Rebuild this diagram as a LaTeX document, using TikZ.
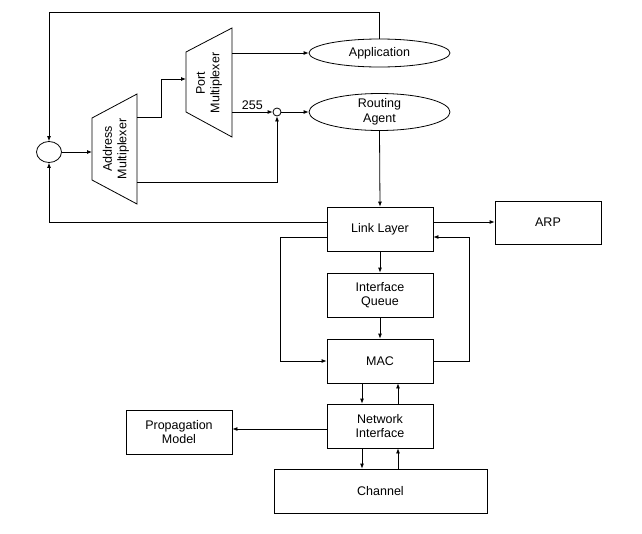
\documentclass[tikz,border=0pt]{standalone}
\usepackage{fontspec}
\setmainfont{Liberation Sans}
\usetikzlibrary{arrows.meta,shapes.geometric,calc}
\begin{document}
\begin{tikzpicture}[x=1pt,y=-1pt,line width=0.8pt,
  >={Latex[length=5pt,width=4pt]},
  lbl/.style={font=\fontsize{12.5}{14.5}\selectfont,align=center},
  box/.style={draw,lbl,minimum width=106pt,minimum height=44pt,inner sep=0pt},
  ell/.style={draw,ellipse,lbl,minimum width=141pt,minimum height=28pt,inner sep=0pt},
  junc/.style={draw,ellipse,inner sep=0pt}]
\useasboundingbox (0,0) rectangle (642,533);
% boxes
\node[box] (ll) at (380,229) {Link Layer};
\node[box,minimum height=43pt] (arp) at (548,222.5) {ARP};
\node[box] (iq) at (380,295) {Interface\\Queue};
\node[box] (mac) at (380,361) {MAC};
\node[box] (ni) at (380,426) {Network\\Interface};
\node[box] (pm) at (179,432) {Propagation\\Model};
\node[box,minimum width=213pt] (ch) at (380.5,491) {Channel};
\node[ell] (app) at (379.5,53) {Application};
\node[ell] (ra) at (379.5,112) {Routing\\Agent};
% junctions
\node[junc,minimum width=25pt,minimum height=21pt] (c1) at (49,152) {};
\node[junc,minimum width=8pt,minimum height=8pt] (c2) at (277,112) {};
% multiplexers
\draw (92,118) -- (137,94) -- (137,204) -- (92,180) -- cycle;
\node[lbl,rotate=90] (amux) at (116,149) {Address\\Multiplexer};
\draw (186,52) -- (232,28) -- (232,137) -- (186,112) -- cycle;
\node[lbl,rotate=90] (pmux) at (209,83) {Port\\Multiplexer};
\coordinate (amin) at (92,152);
\coordinate (amo1) at (137,117);
\coordinate (amo2) at (137,182);
\coordinate (pmin) at (186,79);
\coordinate (pmo1) at (232,53);
\coordinate (pmo2) at (232,112);
% connectors
\draw[->] (c1) -- (amin);
\draw[->] (amo1) -- ++(24,0) |- (pmin);
\draw[->] (pmo1) -- (app.west);
\draw[->] (pmo2) -- node[lbl,above=-1pt] {255} (c2.west);
\draw[->] (c2) -- (ra.west);
\draw[->] (amo2) -| (c2.south);
\draw[->] (ra.south) -- (ll.north);
\draw[->] (app.north) -- ++(0,-26) -| (c1.north);
\coordinate (llw1) at ($(ll.west)+(0,-7)$);
\coordinate (lle1) at ($(ll.east)+(0,-7)$);
\coordinate (llw2) at ($(ll.west)+(0,8)$);
\coordinate (lle2) at ($(ll.east)+(0,8)$);
\draw[->] (llw1) -| (c1.south);
\draw[->] (lle1) -- (lle1 -| arp.west);
\draw[->] (llw2) -- ++(-46,0) |- (mac.west);
\draw[->] (mac.east) -- ++(36,0) |- (lle2);
\draw[->] (ll) -- (iq);
\draw[->] (iq) -- (mac);
\draw[->] ($(mac.south)+(-18,0)$) -- ($(ni.north)+(-18,0)$);
\draw[->] ($(ni.north)+(18,0)$) -- ($(mac.south)+(18,0)$);
\draw[->] ($(ni.south)+(-18,0)$) -- ($(ch.north)+(-18.5,0)$);
\draw[->] ($(ch.north)+(17.5,0)$) -- ($(ni.south)+(18,0)$);
\coordinate (niw) at ($(ni.west)+(0,3)$);
\draw[->] (niw) -- (niw -| pm.east);
\end{tikzpicture}
\end{document}
